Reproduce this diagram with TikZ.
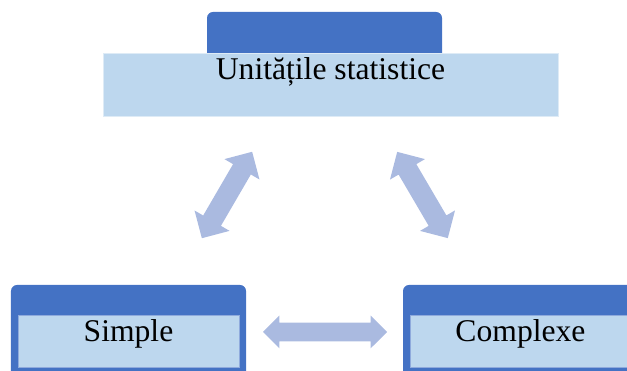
\documentclass[tikz,border=0pt]{standalone}
\usepackage{fontspec}
\setmainfont{Liberation Serif}
\usetikzlibrary{shapes.arrows}
\definecolor{darkblue}{RGB}{68,114,196}
\definecolor{paleblue}{RGB}{189,215,238}
\definecolor{edgeblue}{RGB}{143,170,220}
\definecolor{arrowblue}{RGB}{170,186,224}
\tikzset{>=latex}
\tikzstyle{header}=[fill=darkblue,rounded corners=.15cm,inner sep=0,minimum width=5.875cm]
\tikzstyle{panel}=[fill=paleblue,inner sep=0,font=\fontsize{22.5}{27}\selectfont,text height=.675cm]
\tikzstyle{twoway}=[double arrow,fill=arrowblue,inner xsep=0,inner ysep=.25cm,
  double arrow head extend=.25cm,minimum height=2.5cm]

\begin{document}
\begin{tikzpicture}
    \useasboundingbox (0,0) rectangle (15.675,9.275);
    \clip (0,0) rectangle (15.675,9.275);
    % top box
    \node[header,minimum height=1.275cm] (toptab) at (8.1125,8.3375) {};
    \node[panel,draw=white!50!paleblue,minimum width=11.375cm,text depth=.9cm]
      (units) at (8.2625,7.1625) {Unitățile statistice};
    % bottom boxes
    \node[header,minimum height=2.3cm] (simpletab) at (3.2125,1) {};
    \node[panel,draw=edgeblue,minimum width=5.525cm,text depth=.625cm]
      (simple) at (3.2125,.75) {Simple};
    \node[header,minimum height=2.3cm] (complextab) at (13.0125,1) {};
    \node[panel,draw=edgeblue,minimum width=5.525cm,text depth=.625cm]
      (complex) at (13.0125,.75) {Complexe};
    % arrows
    \node[twoway,rotate=59.8] (leftlink) at (5.675,4.4) {};
    \node[twoway,rotate=-59.6] (rightlink) at (10.5625,4.4) {};
    \node[twoway,minimum height=3.1cm,inner ysep=.225cm,
      double arrow head extend=.175cm] (bottomlink) at (8.125,.975) {};
  \end{tikzpicture}
\end{document}
